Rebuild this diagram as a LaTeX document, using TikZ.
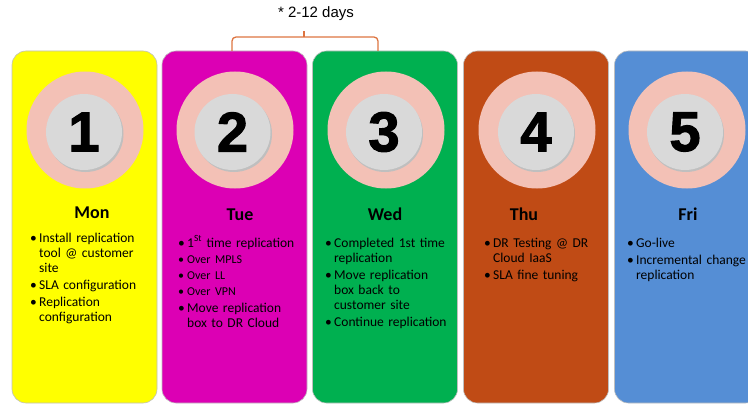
\documentclass[tikz,border=0pt]{standalone}
\usepackage{fontspec}
\setmainfont{Liberation Sans}
\newfontfamily\cardfont{Carlito}
\newfontfamily\numfont{Liberation Sans Bold}[FakeBold=2]
\usetikzlibrary{positioning}

\definecolor{monyellow}{HTML}{FFFF00}
\definecolor{tuemagenta}{HTML}{DC00B4}
\definecolor{wedgreen}{HTML}{00B050}
\definecolor{thurust}{HTML}{C04B15}
\definecolor{friblue}{HTML}{558ED5}
\definecolor{ringpink}{HTML}{F3C1B6}
\definecolor{discgrey}{HTML}{D9D9D9}
\definecolor{bracecol}{HTML}{DD7440}

\newcommand\bul[1]{\par\hangindent=9pt\hangafter=1\noindent\makebox[9pt][l]{\textbullet}#1\par}

\tikzset{
  card/.style={draw=black!25, line width=0.6pt, rounded corners=14pt,
    minimum width=145pt, minimum height=352pt, inner sep=0pt},
  ring/.style={circle, fill=ringpink, minimum size=117pt, inner sep=0pt},
  disc/.style={circle, fill=discgrey, minimum size=76pt, inner sep=0pt,
    font=\numfont\fontsize{56}{56}\selectfont},
  dayname/.style={font=\cardfont\bfseries\fontsize{18}{20}\selectfont, anchor=base},
  items/.style={anchor=north west, inner sep=0pt, text width=#1,
    font=\cardfont\fontsize{13.5}{15}\selectfont\setlength{\parskip}{2pt}},
}

\begin{document}
\begin{tikzpicture}[x=1pt, y=-1pt]
    \useasboundingbox (0,0) rectangle (748,404);
    \clip (0,0) rectangle (748,404);
    % cards
    \node[card, fill=monyellow] (mon) at (84.5,227) {};
    \node[card, fill=tuemagenta] (tue) at (234.5,227) {};
    \node[card, fill=wedgreen] (wed) at (385,227) {};
    \node[card, fill=thurust] (thu) at (536,227) {};
    \node[card, fill=friblue] (fri) at (687,227) {};
    % rings and numbers
    \node[ring] (ring1) at (85,130) {};
    \node[ring] (ring2) at (235,130) {};
    \node[ring] (ring3) at (386,130) {};
    \node[ring] (ring4) at (537,130) {};
    \node[ring] (ring5) at (687,130) {};
    \fill[black!25] (85.5,134) circle (38);
    \fill[black!25] (234,134) circle (38);
    \fill[black!25] (385,134) circle (38);
    \fill[black!25] (537,134) circle (38);
    \fill[black!25] (686,134) circle (38);
    \node[disc] (num1) at (84,132) {1};
    \node[disc] (num2) at (232.5,132) {2};
    \node[disc] (num3) at (384,132) {3};
    \node[disc] (num4) at (536,132) {4};
    \node[disc] (num5) at (685,132) {5};
    % day names
    \node[dayname] (monday) at (92,218) {Mon};
    \node[dayname] (tuesday) at (240,220) {Tue};
    \node[dayname] (wednesday) at (385,220) {Wed};
    \node[dayname] (thursday) at (524,220) {Thu};
    \node[dayname] (friday) at (688,220) {Fri};
    % tasks
    \node[items=124pt] (montasks) at (30,225) {%
      \bul{Install replication\newline tool @ customer\newline site}
      \bul{SLA configuration}
      \bul{Replication\newline configuration}};
    \node[items=128pt] (tuetasks) at (178,230) {%
      \bul{1\textsuperscript{St} time replication}
      {\fontsize{12}{15}\selectfont\setlength{\parskip}{1pt}%
      \bul{Over MPLS}
      \bul{Over LL}
      \bul{Over VPN}}
      \bul{Move replication\newline box to DR Cloud}};
    \node[items=130pt] (wedtasks) at (325,230) {%
      \bul{Completed 1st time\newline replication}
      \bul{Move replication\newline box back to\newline customer site}
      \bul{Continue replication}};
    \node[items=122pt] (thutasks) at (484,230) {%
      \bul{DR Testing @ DR\newline Cloud IaaS}
      \bul{SLA fine tuning}};
    \node[items=140pt] (fritasks) at (627,230) {%
      \bul{Go-live}
      \bul{Incremental change\newline replication}};
    % bracket over tue and wed
    \coordinate (braceL) at (232,51);
    \coordinate (braceR) at (378,51);
    \draw[bracecol, line width=1.3pt, rounded corners=4pt]
        (braceL) -- (232,37) -- (378,37) -- (braceR);
    \draw[bracecol, line width=1.3pt] (304,37) -- (304,31);
    \node[font=\fontsize{15}{17}\selectfont] (span) at (316,14) {* 2-12 days};
\end{tikzpicture}
\end{document}
